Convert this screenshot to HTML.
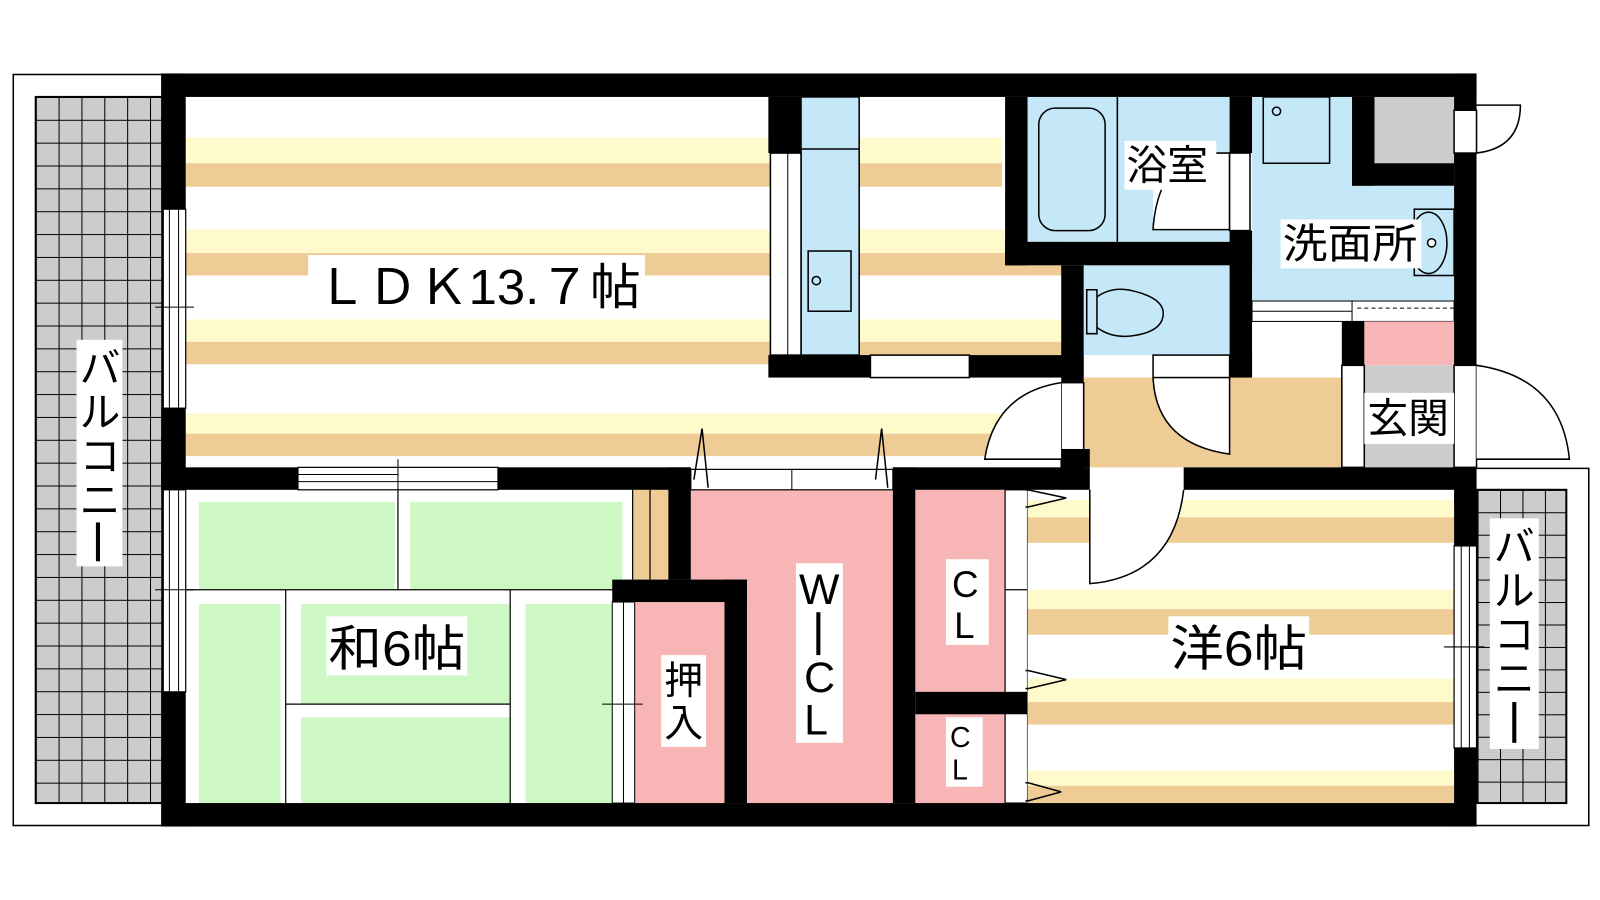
<!DOCTYPE html>
<html><head><meta charset="utf-8"><style>
html,body{margin:0;padding:0;background:#fff;width:1600px;height:900px;overflow:hidden}
svg{display:block}
text{font-family:"Liberation Sans","Noto Sans CJK JP",sans-serif;fill:#000}
</style></head><body>
<svg width="1600" height="900" viewBox="0 0 1568 882" preserveAspectRatio="none" xmlns="http://www.w3.org/2000/svg">
<defs>
<pattern id="g" x="35" y="95" width="22.4" height="22.4" patternUnits="userSpaceOnUse">
<rect width="22.4" height="22.4" fill="#cccccc"/>
<path d="M0 0H22.4M0 0V22.4" stroke="#000" stroke-width="2"/>
</pattern>
<pattern id="g2" x="1448" y="480" width="22" height="22" patternUnits="userSpaceOnUse">
<rect width="22" height="22" fill="#cccccc"/>
<path d="M0 0H22M0 0V22" stroke="#000" stroke-width="2"/>
</pattern>
</defs>
<!-- balconies -->
<rect x="13" y="73" width="150" height="736" fill="#fff" stroke="#000" stroke-width="1.5"/>
<rect x="35" y="95" width="124" height="692" fill="url(#g)" stroke="#000" stroke-width="2"/>
<rect x="1440" y="459" width="117" height="350" fill="#fff" stroke="#000" stroke-width="1.5"/>
<rect x="1447" y="480" width="88" height="307" fill="url(#g2)" stroke="#000" stroke-width="2"/>
<!-- LDK floor -->
<g fill="#fffacb">
<rect x="182" y="135" width="800" height="25"/><rect x="182" y="225" width="860" height="23"/>
<rect x="182" y="313" width="860" height="22"/><rect x="182" y="405" width="800" height="20"/></g>
<g fill="#efcb96">
<rect x="182" y="160" width="800" height="23"/><rect x="182" y="248" width="860" height="22"/>
<rect x="182" y="335" width="860" height="22"/><rect x="182" y="425" width="800" height="22"/></g>
<!-- kitchen -->
<rect x="785" y="95" width="57" height="253" fill="#c4e8f8" stroke="#000" stroke-width="1.5"/>
<line x1="785" y1="146" x2="842" y2="146" stroke="#000" stroke-width="1.5"/>
<rect x="792" y="246" width="42" height="59" fill="none" stroke="#000" stroke-width="1.5"/>
<circle cx="800" cy="275" r="4" fill="none" stroke="#000" stroke-width="1.5"/>
<rect x="755" y="150" width="30" height="198" fill="#fff" stroke="#000" stroke-width="1.5"/>
<line x1="772" y1="150" x2="772" y2="348" stroke="#000" stroke-width="1"/>
<!-- bath -->
<rect x="1007" y="95" width="198" height="142" fill="#c4e8f8"/>
<rect x="1018" y="106" width="65" height="120" rx="16" fill="none" stroke="#000" stroke-width="1.5"/>
<line x1="1095" y1="95" x2="1095" y2="237" stroke="#000" stroke-width="1.5"/>
<path d="M1130 225 Q1133 180 1160 150" fill="none" stroke="#000" stroke-width="1.5"/>
<rect x="1130" y="150" width="75" height="75" fill="#fff"/>
<path d="M1130 225 Q1133 175 1165 150 H1205 V225 Z" fill="#fff" stroke="#000" stroke-width="1.5"/>
<rect x="1205" y="150" width="20" height="76" fill="#fff" stroke="#000" stroke-width="1.5"/>
<!-- washroom -->
<rect x="1227" y="95" width="198" height="200" fill="#c4e8f8"/>
<rect x="1347" y="95" width="78" height="65" fill="#cccccc"/>
<rect x="1238" y="95" width="65" height="65" fill="none" stroke="#000" stroke-width="1.5"/>
<circle cx="1251" cy="109" r="4" fill="none" stroke="#000" stroke-width="1.5"/>
<rect x="1386" y="205" width="39" height="65" fill="none" stroke="#000" stroke-width="1.5"/>
<ellipse cx="1400" cy="238" rx="18" ry="30" fill="none" stroke="#000" stroke-width="1.5"/>
<circle cx="1403" cy="238" r="4" fill="#fff" stroke="#000" stroke-width="1.5"/>
<rect x="1227" y="295" width="198" height="20" fill="#fff" stroke="#000" stroke-width="1"/>
<line x1="1227" y1="305" x2="1325" y2="305" stroke="#000" stroke-width="1"/>
<line x1="1325" y1="295" x2="1325" y2="315" stroke="#000" stroke-width="1"/>
<line x1="1330" y1="302" x2="1425" y2="302" stroke="#000" stroke-width="1" stroke-dasharray="4 3"/>
<!-- toilet -->
<rect x="1062" y="260" width="143" height="88" fill="#c4e8f8"/>
<path d="M1065 284 H1075 V327 H1065 Z" fill="none" stroke="#000" stroke-width="1.5"/>
<path d="M1075 291 Q1090 280 1110 285 Q1140 292 1140 307 Q1140 325 1110 329 Q1090 332 1075 321" fill="none" stroke="#000" stroke-width="1.5"/>
<!-- hall -->
<rect x="1062" y="370" width="253" height="88" fill="#efcb96"/>
<rect x="1337" y="315" width="88" height="43" fill="#f8b5b5"/>
<rect x="1337" y="358" width="88" height="100" fill="#cccccc"/>
<rect x="1315" y="358" width="22" height="100" fill="#fff" stroke="#000" stroke-width="1.5"/>
<rect x="1425" y="358" width="22" height="100" fill="#fff" stroke="#000" stroke-width="1.5"/>
<rect x="1040" y="375" width="22" height="83" fill="#fff" stroke="#000" stroke-width="1.5"/>
<path d="M1040 375 Q975 385 965 450 H1040" fill="#fff" stroke="#000" stroke-width="1.5"/>
<path d="M1130 370 Q1133 435 1205 445 V370" fill="#fff" stroke="#000" stroke-width="1.5"/>
<rect x="1130" y="348" width="75" height="22" fill="#fff" stroke="#000" stroke-width="1.5"/>
<path d="M1447 358 Q1530 370 1538 450 H1447" fill="#fff" stroke="#000" stroke-width="1.5"/>
<path d="M1447 103 H1490 Q1490 145 1447 150" fill="#fff" stroke="#000" stroke-width="1.5"/>
<rect x="1425" y="108" width="22" height="42" fill="#fff" stroke="#000" stroke-width="1.5"/>
<rect x="853" y="348" width="97" height="22" fill="#fff" stroke="#000" stroke-width="1.5"/>
<!-- washitsu -->
<rect x="182" y="480" width="438" height="307" fill="#fff"/>
<g fill="#cdf8c4">
<rect x="195" y="492" width="192" height="86"/><rect x="402" y="492" width="208" height="86"/>
<rect x="195" y="592" width="80" height="195"/><rect x="295" y="592" width="205" height="98"/>
<rect x="295" y="703" width="205" height="84"/><rect x="515" y="592" width="95" height="195"/></g>
<g stroke="#000" stroke-width="1.2">
<line x1="182" y1="578" x2="620" y2="578"/><line x1="390" y1="480" x2="390" y2="578"/>
<line x1="280" y1="578" x2="280" y2="787"/><line x1="500" y1="578" x2="500" y2="787"/>
<line x1="280" y1="690" x2="500" y2="690"/></g>
<rect x="620" y="480" width="35" height="88" fill="#efcb96"/>
<line x1="637" y1="480" x2="637" y2="568" stroke="#000" stroke-width="1.2"/>
<line x1="620" y1="480" x2="620" y2="568" stroke="#000" stroke-width="1.2"/>
<!-- closets -->
<rect x="622" y="590" width="88" height="197" fill="#f8b5b5"/>
<rect x="600" y="590" width="22" height="197" fill="#fff" stroke="#000" stroke-width="1"/>
<line x1="611" y1="590" x2="611" y2="787" stroke="#000" stroke-width="1"/>
<line x1="590" y1="690" x2="630" y2="690" stroke="#000" stroke-width="1"/>
<rect x="677" y="480" width="198" height="307" fill="#f8b5b5"/>
<rect x="897" y="480" width="88" height="198" fill="#f8b5b5"/>
<rect x="897" y="700" width="88" height="87" fill="#f8b5b5"/>
<rect x="985" y="480" width="22" height="307" fill="#fff" stroke="#000" stroke-width="1.2"/>
<line x1="985" y1="578" x2="1007" y2="578" stroke="#000" stroke-width="1.2"/>
<path d="M1045 488 L1005 480 M1045 488 L1005 497 M1045 666 L1005 657 M1045 666 L1005 675 M1040 776 L1005 767 M1040 776 L1005 785" stroke="#000" stroke-width="1.5" fill="none"/>
<!-- yoshitsu floor -->
<rect x="1007" y="480" width="418" height="307" fill="#fff"/>
<g fill="#fffacb"><rect x="1007" y="490" width="418" height="17"/><rect x="1007" y="578" width="418" height="19"/><rect x="1007" y="665" width="418" height="23"/><rect x="1007" y="755" width="418" height="15"/></g>
<g fill="#efcb96"><rect x="1007" y="507" width="418" height="25"/><rect x="1007" y="597" width="418" height="25"/><rect x="1007" y="688" width="418" height="22"/><rect x="1007" y="770" width="418" height="17"/></g>
<path d="M1068 480 V572 Q1150 565 1160 480" fill="#fff" stroke="#000" stroke-width="1.5"/>
<path d="M1045 488 L1007 480 M1045 488 L1007 497 M1045 666 L1007 657 M1045 666 L1007 675 M1040 776 L1007 767 M1040 776 L1007 785" stroke="#000" stroke-width="1.5" fill="none"/>
<!-- walls -->
<g fill="#000">
<rect x="158" y="72" width="1289" height="23"/>
<rect x="158" y="787" width="1289" height="23"/>
<rect x="158" y="72" width="24" height="133"/><rect x="158" y="400" width="24" height="80"/><rect x="158" y="678" width="24" height="132"/>
<rect x="1425" y="72" width="22" height="36"/><rect x="1425" y="150" width="22" height="208"/><rect x="1425" y="458" width="22" height="77"/><rect x="1425" y="733" width="22" height="77"/>
<rect x="753" y="95" width="32" height="55"/>
<rect x="753" y="348" width="100" height="22"/><rect x="950" y="348" width="112" height="22"/>
<rect x="985" y="95" width="22" height="165"/><rect x="985" y="237" width="242" height="23"/>
<rect x="1205" y="95" width="22" height="55"/><rect x="1205" y="226" width="22" height="144"/>
<rect x="1325" y="95" width="22" height="87"/><rect x="1325" y="160" width="100" height="22"/>
<rect x="1040" y="260" width="22" height="115"/>
<rect x="1315" y="315" width="22" height="43"/>
<rect x="1205" y="348" width="22" height="22"/>
<rect x="158" y="458" width="134" height="22"/><rect x="488" y="458" width="189" height="22"/>
<rect x="875" y="458" width="193" height="22"/><rect x="1160" y="458" width="287" height="22"/>
<rect x="1040" y="440" width="28" height="18"/>
<rect x="655" y="458" width="22" height="110"/>
<rect x="600" y="568" width="132" height="22"/><rect x="710" y="568" width="22" height="219"/>
<rect x="875" y="458" width="22" height="329"/>
<rect x="897" y="678" width="110" height="22"/>
</g>
<!-- windows -->
<rect x="160" y="205" width="22" height="195" fill="#fff" stroke="#000" stroke-width="1.2"/>
<line x1="166" y1="205" x2="166" y2="400" stroke="#000"/><line x1="175" y1="205" x2="175" y2="400" stroke="#000"/>
<line x1="152" y1="301" x2="190" y2="301" stroke="#000"/>
<rect x="160" y="480" width="22" height="198" fill="#fff" stroke="#000" stroke-width="1.2"/>
<line x1="166" y1="480" x2="166" y2="678" stroke="#000"/><line x1="175" y1="480" x2="175" y2="678" stroke="#000"/>
<line x1="152" y1="578" x2="190" y2="578" stroke="#000"/>
<rect x="1425" y="535" width="22" height="198" fill="#fff" stroke="#000" stroke-width="1.2"/>
<line x1="1432" y1="535" x2="1432" y2="733" stroke="#000"/><line x1="1440" y1="535" x2="1440" y2="733" stroke="#000"/>
<line x1="1415" y1="634" x2="1455" y2="634" stroke="#000"/>
<rect x="292" y="458" width="196" height="22" fill="#fff" stroke="#000" stroke-width="1.2"/>
<line x1="292" y1="465" x2="390" y2="465" stroke="#000"/><line x1="292" y1="472" x2="488" y2="472" stroke="#000"/>
<line x1="390" y1="450" x2="390" y2="480" stroke="#000"/>
<rect x="677" y="460" width="198" height="20" fill="#fff" stroke="#000" stroke-width="1.2"/>
<line x1="776" y1="460" x2="776" y2="480" stroke="#000"/>
<path d="M680 470 L688 420 L694 478 M858 470 L864 420 L870 478" fill="none" stroke="#000" stroke-width="1.5"/>
<!-- labels -->
<rect x="302" y="250" width="330" height="60" fill="#fff"/>
<text x="310" y="298" font-size="48" textLength="318" lengthAdjust="spacingAndGlyphs">ＬＤＫ13.７帖</text>
<rect x="1102" y="138" width="90" height="48" fill="#fff"/>
<text x="1104" y="176" font-size="40">浴室</text>
<rect x="1255" y="215" width="138" height="48" fill="#fff"/>
<text x="1257" y="253" font-size="40" textLength="132" lengthAdjust="spacingAndGlyphs">洗面所</text>
<rect x="1337" y="385" width="88" height="50" fill="#fff"/>
<text x="1340" y="424" font-size="40">玄関</text>
<rect x="320" y="604" width="138" height="58" fill="#fff"/>
<text x="322" y="652" font-size="48" textLength="134" lengthAdjust="spacingAndGlyphs">和6帖</text>
<rect x="1145" y="604" width="138" height="58" fill="#fff"/>
<text x="1147" y="652" font-size="48" textLength="134" lengthAdjust="spacingAndGlyphs">洋6帖</text>
<rect x="648" y="642" width="44" height="90" fill="#fff"/>
<text x="651" y="680" font-size="38">押</text><text x="651" y="722" font-size="38">入</text>
<rect x="780" y="552" width="46" height="176" fill="#fff"/>
<text x="783" y="592" font-size="42">W</text>
<rect x="800" y="600" width="4" height="42" fill="#000"/>
<text x="788" y="678" font-size="42">C</text><text x="788" y="720" font-size="42">L</text>
<rect x="927" y="548" width="42" height="84" fill="#fff"/>
<text x="933" y="585" font-size="36">C</text><text x="935" y="625" font-size="36">L</text>
<rect x="927" y="703" width="36" height="68" fill="#fff"/>
<text x="931" y="732" font-size="28">C</text><text x="933" y="764" font-size="28">L</text>
<rect x="75" y="333" width="45" height="222" fill="#fff"/>
<text x="78" y="375" font-size="40">バ</text><text x="78" y="418" font-size="40">ル</text><text x="78" y="461" font-size="40">コ</text><text x="78" y="504" font-size="40">ニ</text>
<rect x="94" y="512" width="4" height="38" fill="#000"/>
<rect x="1460" y="508" width="48" height="226" fill="#fff"/>
<text x="1464" y="550" font-size="40">バ</text><text x="1464" y="593" font-size="40">ル</text><text x="1464" y="636" font-size="40">コ</text><text x="1464" y="679" font-size="40">ニ</text>
<rect x="1482" y="688" width="4" height="40" fill="#000"/>
</svg>
</body></html>
